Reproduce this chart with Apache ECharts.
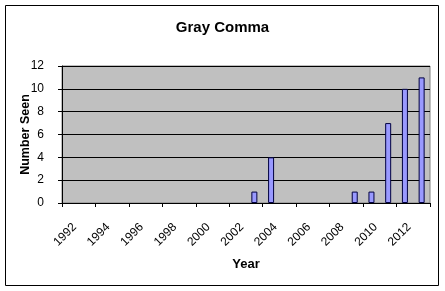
<!DOCTYPE html>
<html>
<head>
<meta charset="utf-8">
<script src="https://cdn.jsdelivr.net/npm/echarts@6/dist/echarts.min.js"></script>
<style>html,body{margin:0;padding:0;background:#fff;}#c{width:445px;height:291px;}</style>
</head>
<body>
<div id="c"></div>
<script>
const years = ['1992','1993','1994','1995','1996','1997','1998','1999','2000','2001','2002','2003','2004','2005','2006','2007','2008','2009','2010','2011','2012','2013'];
const counts = [0,0,0,0,0,0,0,0,0,0,0,1,4,0,0,0,0,1,1,7,10,11];
const yTicks = [0,2,4,6,8,10,12];

const font = '"Liberation Sans", Arial, sans-serif';
const chart = echarts.init(document.getElementById('c'));
chart.setOption({
  animation: false,
  backgroundColor: '#ffffff',
  title: {
    text: 'Gray Comma', left: 'center', top: 15,
    textStyle: {fontFamily: font, fontSize: 15, fontWeight: 'bold', color: '#000'}
  },
  grid: {
    left: 62, right: 15, top: 66, bottom: 88,
    show: true, backgroundColor: '#C0C0C0', borderColor: '#808080', borderWidth: 1
  },
  xAxis: {
    type: 'category', data: years,
    name: 'Year', nameLocation: 'middle', nameGap: 55, nameMoveOverlap: false,
    nameTextStyle: {fontFamily: font, fontSize: 13, fontWeight: 'bold', color: '#000'},
    axisLine: {lineStyle: {color: '#000', width: 1}},
    axisTick: {show: true, length: 4, lineStyle: {color: '#000'}},
    axisLabel: {interval: 1, rotate: 45, margin: 18, align: 'right', verticalAlign: 'top',
      fontFamily: font, fontSize: 12, color: '#000'},
    splitLine: {show: false}
  },
  yAxis: {
    type: 'value', min: 0, max: 12, interval: 2,
    name: 'Number Seen', nameLocation: 'middle', nameGap: 30, nameMoveOverlap: false,
    nameTextStyle: {fontFamily: font, fontSize: 12.5, fontWeight: 'bold', color: '#000'},
    axisLine: {show: true, lineStyle: {color: '#000', width: 1}},
    axisTick: {show: true, length: 4, lineStyle: {color: '#000'}},
    axisLabel: {margin: 18, fontFamily: font, fontSize: 12, color: '#000',
      formatter: v => yTicks.includes(v) ? String(v) : ''},
    splitLine: {show: true, lineStyle: {color: '#000', width: 1}}
  },
  series: [{
    type: 'bar', data: counts.map(v => v === 0 ? null : v), barWidth: 6,
    itemStyle: {color: '#9999FF', borderColor: '#000040', borderWidth: 1}
  }],
  graphic: [{
    type: 'rect', shape: {x: 5.5, y: 5.5, width: 433, height: 280},
    style: {fill: 'none', stroke: '#000', lineWidth: 1}, z: 100
  }]
});
</script>
</body>
</html>
